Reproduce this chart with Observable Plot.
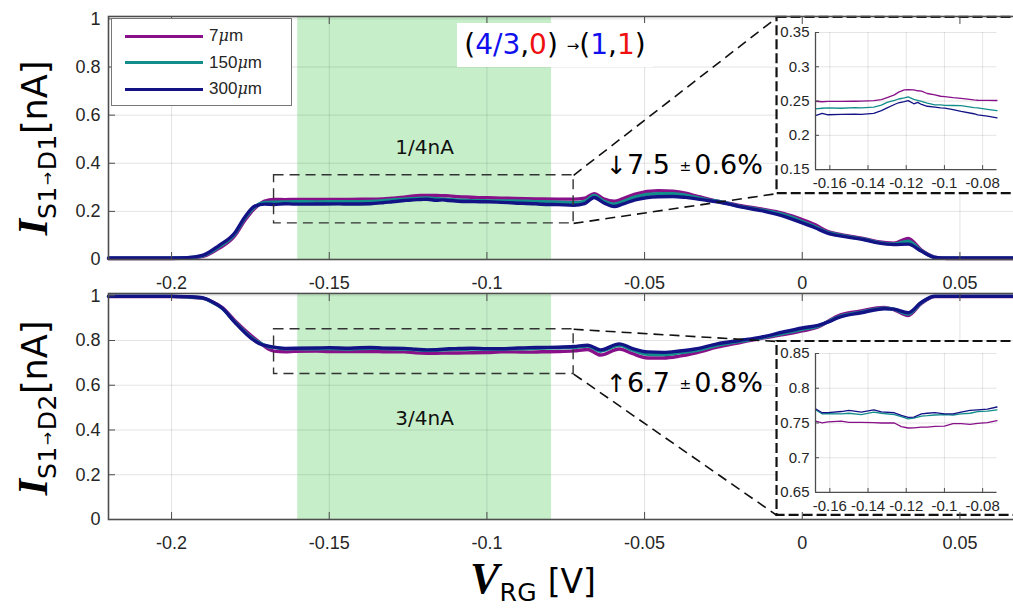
<!DOCTYPE html>
<html><head><meta charset="utf-8">
<script src="https://cdn.jsdelivr.net/npm/d3@7"></script>
<script src="https://cdn.jsdelivr.net/npm/@observablehq/plot@0.6"></script>
<style>
body{margin:0;background:#fff;}
#wrap{position:relative;width:1013px;height:610px;overflow:hidden;background:#fff;font-family:"Liberation Sans",Arial,sans-serif;color:#262626;}
#wrap > *{position:absolute;}
.ylab{transform:translate(-50%,-50%) rotate(-90deg);white-space:nowrap;line-height:1;color:#000;}
.xlab{transform:translate(-50%,0);white-space:nowrap;line-height:1;color:#000;}
.bI{font:italic bold 42px "Liberation Serif","DejaVu Serif",serif;}
.sub{font:25px "DejaVu Sans",sans-serif;vertical-align:-0.35em;letter-spacing:0.5px;}
.arr{font-size:16px;vertical-align:0.15em;margin:0 1px;}
.unit{font:35px "DejaVu Sans",sans-serif;}
.ann{font:27px "DejaVu Sans",sans-serif;white-space:nowrap;line-height:1;color:#000;}
.pm{font-size:14px;vertical-align:0.25em;margin:0 3px 0 1px;}
#legend{border:1px solid #777;background:#fff;box-sizing:border-box;}
.lr{position:absolute;left:0;height:20px;display:flex;align-items:center;font:17px "Liberation Sans",Arial,sans-serif;color:#262626;}
.sw{display:inline-block;width:78px;height:3px;margin-left:13px;margin-right:6px;}
</style></head><body><div id="wrap"></div>
<script>
// ---------------- data ----------------
const seriesNames = ["7μm", "150μm", "300μm"];
const seriesColors = ["#88118a", "#138d8c", "#131386"];

const xTicks = [-0.2, -0.15, -0.1, -0.05, 0, 0.05];
const yTicks = [0, 0.2, 0.4, 0.6, 0.8, 1];
const insetXTicks = [-0.16, -0.14, -0.12, -0.1, -0.08];
const topInsetYTicks = [0.15, 0.2, 0.25, 0.3, 0.35];
const botInsetYTicks = [0.65, 0.7, 0.75, 0.8, 0.85];
const xDomain = [-0.22, 0.07];
const yDomain = [0, 1.01];
const band = [-0.16, -0.0795];
const zoomX = [-0.1675, -0.0725];
const topZoomY = [0.15, 0.35];
const botZoomY = [0.65, 0.85];
const topInsetBox = {x1: -0.008, x2: 0.09, y1: 0.274, y2: 1.006};
const botInsetBox = {x1: -0.008, x2: 0.09, y1: 0.018, y2: 0.7955};

// I S1->D1
const topX = [-0.22, -0.2, -0.195, -0.19, -0.185, -0.18, -0.1768, -0.1736, -0.1705,
  -0.1675, -0.164, -0.161, -0.154, -0.147, -0.1435, -0.137, -0.133, -0.13, -0.1262,
  -0.124, -0.121, -0.119, -0.116, -0.114, -0.112, -0.109, -0.105, -0.102, -0.0998,
  -0.0955, -0.0913, -0.0846, -0.0826, -0.0775, -0.0725,
  -0.069, -0.066, -0.063, -0.0596, -0.057, -0.053, -0.0456, -0.041, -0.037, -0.034,
  -0.03, -0.026, -0.02, -0.013, -0.006, 0, 0.004, 0.008, 0.012, 0.016,
  0.02, 0.024, 0.029, 0.0336, 0.0377, 0.042, 0.046, 0.07];
const top7 = [0.004, 0.004, 0.006, 0.013, 0.046, 0.098, 0.162, 0.213, 0.243,
  0.2497, 0.249, 0.2495, 0.2495, 0.2497, 0.25, 0.2505, 0.252, 0.255, 0.259,
  0.263, 0.2662, 0.2665, 0.2663, 0.265, 0.2645, 0.261, 0.259, 0.257, 0.2565,
  0.255, 0.254, 0.2516, 0.2512, 0.251, 0.2508,
  0.255, 0.274, 0.252, 0.242, 0.252, 0.272, 0.286, 0.284, 0.276, 0.265,
  0.252, 0.24, 0.225, 0.21, 0.192, 0.166, 0.145, 0.117, 0.104, 0.095,
  0.086, 0.074, 0.068, 0.088, 0.04, 0.01, 0.004, 0.004];
const top150 = [0.005, 0.005, 0.007, 0.016, 0.053, 0.105, 0.171, 0.219, 0.237,
  0.2386, 0.2395, 0.24, 0.2395, 0.2405, 0.24, 0.2412, 0.244, 0.248, 0.251,
  0.253, 0.2547, 0.256, 0.2525, 0.251, 0.2495, 0.247, 0.2445, 0.2445, 0.2438,
  0.2435, 0.2434, 0.2405, 0.24, 0.238, 0.236,
  0.242, 0.266, 0.243, 0.23, 0.24, 0.26, 0.274, 0.273, 0.267, 0.259,
  0.248, 0.24, 0.222, 0.206, 0.186, 0.158, 0.137, 0.113, 0.101, 0.092,
  0.083, 0.071, 0.064, 0.076, 0.037, 0.009, 0.005, 0.005];
const top300 = [0.006, 0.006, 0.008, 0.018, 0.058, 0.11, 0.176, 0.222, 0.23,
  0.2288, 0.232, 0.23, 0.2305, 0.231, 0.2307, 0.232, 0.236, 0.24, 0.245,
  0.2475, 0.2493, 0.2507, 0.246, 0.248, 0.245, 0.2424, 0.241, 0.24, 0.2398,
  0.2375, 0.235, 0.2315, 0.2297, 0.228, 0.2255,
  0.232, 0.258, 0.236, 0.22, 0.23, 0.248, 0.261, 0.262, 0.258, 0.253,
  0.245, 0.238, 0.22, 0.203, 0.18, 0.152, 0.132, 0.11, 0.098, 0.09,
  0.081, 0.069, 0.062, 0.064, 0.035, 0.009, 0.006, 0.006];

// I S1->D2
const botX = [-0.22, -0.2, -0.195, -0.19, -0.187, -0.184, -0.18, -0.1746, -0.1715, -0.1693,
  -0.1675, -0.164, -0.161, -0.154, -0.15, -0.1435, -0.137, -0.133, -0.1262, -0.1226,
  -0.119, -0.116, -0.112, -0.109, -0.105, -0.1, -0.0955, -0.0913, -0.0866, -0.0826,
  -0.0775, -0.0725,
  -0.068, -0.064, -0.058, -0.054, -0.049, -0.044, -0.039, -0.034, -0.027, -0.02,
  -0.013, -0.006, 0, 0.005, 0.0085, 0.0114, 0.0187, 0.026, 0.029, 0.0336,
  0.0377, 0.042, 0.07];
const bot7 = [0.996, 0.996, 0.994, 0.988, 0.972, 0.948, 0.89, 0.82, 0.785, 0.762,
  0.7526, 0.75, 0.7515, 0.7526, 0.751, 0.751, 0.7505, 0.75, 0.75, 0.7447,
  0.7428, 0.743, 0.744, 0.744, 0.745, 0.7456, 0.749, 0.749, 0.748, 0.7495,
  0.7505, 0.7534,
  0.76, 0.735, 0.762, 0.742, 0.722, 0.722, 0.73, 0.744, 0.77, 0.79,
  0.81, 0.826, 0.843, 0.86, 0.888, 0.91, 0.932, 0.948, 0.938, 0.912,
  0.965, 0.996, 0.996];
const bot150 = [0.997, 0.997, 0.995, 0.989, 0.97, 0.944, 0.884, 0.812, 0.785, 0.772,
  0.769, 0.763, 0.7635, 0.763, 0.764, 0.762, 0.7655, 0.764, 0.762, 0.759,
  0.756, 0.757, 0.76, 0.7605, 0.7615, 0.762, 0.7615, 0.763, 0.764, 0.7665,
  0.767, 0.769,
  0.775, 0.752, 0.778, 0.758, 0.738, 0.737, 0.745, 0.755, 0.778, 0.796,
  0.812, 0.832, 0.85, 0.864, 0.886, 0.905, 0.927, 0.944, 0.94, 0.918,
  0.968, 0.997, 0.997];
const bot300 = [0.998, 0.998, 0.996, 0.99, 0.972, 0.945, 0.882, 0.808, 0.782, 0.775,
  0.7704, 0.7647, 0.765, 0.7665, 0.768, 0.7655, 0.769, 0.766, 0.7647, 0.761,
  0.758, 0.7585, 0.763, 0.764, 0.765, 0.763, 0.763, 0.7655, 0.768, 0.769,
  0.77, 0.773,
  0.779, 0.758, 0.785, 0.765, 0.749, 0.747, 0.753, 0.762, 0.785, 0.8,
  0.815, 0.838, 0.856, 0.868, 0.884, 0.902, 0.924, 0.942, 0.94, 0.924,
  0.97, 0.998, 0.998];

// ---------------- build ----------------
const fmt = d => String(d);
function tidy(xs, cols) {
  const rows = [];
  cols.forEach((ys, k) => xs.forEach((x, i) => rows.push({x, y: ys[i], s: seriesNames[k]})));
  return rows;
}
const topRows = tidy(topX, [top7, top150, top300]);
const botRows = tidy(botX, [bot7, bot150, bot300]);

const wrap = document.getElementById("wrap");
const color = {domain: seriesNames, range: seriesColors};
const tickCol = "#4d4d4d";

function mainPanel(rows, zoomY, box, note, noteY, height, marginTop, marginBottom) {
  return Plot.plot({
    width: 1030, height, marginLeft: 108, marginRight: 7.5, marginTop, marginBottom,
    x: {domain: xDomain, label: null},
    y: {domain: yDomain, label: null},
    color,
    style: {fontFamily: "'Liberation Sans', Arial, sans-serif", fontSize: "18px", color: "#262626", background: "transparent"},
    marks: [
      Plot.rect([band], {x1: d => d[0], x2: d => d[1], y1: yDomain[0], y2: yDomain[1], fill: "#c6efc9"}),
      Plot.gridX(xTicks, {stroke: "#000", strokeOpacity: 0.11, strokeWidth: 1}),
      Plot.gridY(yTicks, {stroke: "#000", strokeOpacity: 0.11, strokeWidth: 1}),
      Plot.line(rows, {x: "x", y: "y", z: "s", stroke: "s", strokeWidth: 3.4, curve: "monotone-x"}),
      Plot.rect([{}], {x1: zoomX[0], x2: zoomX[1], y1: zoomY[0], y2: zoomY[1], fill: "none", stroke: "#333", strokeWidth: 1.4, strokeDasharray: "10,6"}),
      Plot.rect([box], {x1: "x1", x2: "x2", y1: "y1", y2: "y2", fill: "white", stroke: "#111", strokeWidth: 2.2, strokeDasharray: "10,4"}),
      Plot.link([
        {a: zoomX[1], b: zoomY[1], c: box.x1, d: box.y2},
        {a: zoomX[1], b: zoomY[0], c: box.x1, d: box.y1}
      ], {x1: "a", y1: "b", x2: "c", y2: "d", stroke: "#111", strokeWidth: 1.6, strokeDasharray: "10,6"}),
      Plot.text([note], {x: (band[0] + band[1]) / 2, y: noteY, text: d => d, fontSize: 20, fontFamily: "DejaVu Sans", fill: "#111"}),
      Plot.axisX(xTicks, {anchor: "bottom", tickSize: -7, tickPadding: 24, tickFormat: fmt, stroke: tickCol, fill: "#262626", fontSize: 18}),
      Plot.axisX(xTicks, {anchor: "top", tickSize: -7, tickFormat: () => "", stroke: tickCol}),
      Plot.axisY(yTicks, {anchor: "left", tickSize: -7, tickPadding: 15, tickFormat: fmt, stroke: tickCol, fill: "#262626", fontSize: 18}),
      Plot.frame({stroke: tickCol, strokeWidth: 1.6})
    ]
  });
}

function place(el, left, top) {
  el.style.position = "absolute";
  el.style.left = left + "px";
  el.style.top = top + "px";
  el.style.maxWidth = "none";
  el.style.overflow = "visible";
  el.style.background = "transparent";
  wrap.appendChild(el);
}

const topTop = 0, botTop = 290;
const topPlot = mainPanel(topRows, topZoomY, topInsetBox, "1/4nA", 0.465, 300, 16, 41);
place(topPlot, 0, topTop);
const botPlot = mainPanel(botRows, botZoomY, botInsetBox, "3/4nA", 0.452, 320, 3, 91);
place(botPlot, 0, botTop);

function insetPanel(rows, yDom, yT, mTop, mBottom, left, top, height) {
  const sub = rows.filter(d => d.x >= zoomX[0] - 1e-9 && d.x <= zoomX[1] + 1e-9);
  const width = 1013 - left;
  return Plot.plot({
    width, height, marginLeft: 38, marginRight: 17, marginTop: mTop, marginBottom: mBottom,
    x: {domain: zoomX, label: null},
    y: {domain: yDom, label: null},
    color,
    style: {fontFamily: "'Liberation Sans', Arial, sans-serif", fontSize: "15px", color: "#262626", background: "transparent"},
    marks: [
      Plot.gridX(insetXTicks, {stroke: "#000", strokeOpacity: 0.11}),
      Plot.gridY(yT, {stroke: "#000", strokeOpacity: 0.11}),
      Plot.line(sub, {x: "x", y: "y", z: "s", stroke: "s", strokeWidth: 1.3, curve: "linear"}),
      Plot.ruleX([zoomX[0]], {stroke: tickCol, strokeWidth: 1.3}),
      Plot.ruleY([yDom[0]], {stroke: tickCol, strokeWidth: 1.3}),
      Plot.axisX(insetXTicks, {anchor: "bottom", tickSize: -4, tickPadding: 12, tickFormat: fmt, stroke: tickCol, fill: "#262626", fontSize: 15}),
      Plot.axisY(yT, {anchor: "left", tickSize: -4, tickPadding: 10, tickFormat: fmt, stroke: tickCol, fill: "#262626", fontSize: 15})
    ]
  });
}

function insetFor(plot, panelTop, box, rows, yDom, yT, mTop, mBottom) {
  const sx = plot.scale("x"), sy = plot.scale("y");
  const left = sx.apply(box.x1);
  const top = panelTop + sy.apply(box.y2);
  const height = sy.apply(box.y1) - sy.apply(box.y2);
  const ins = insetPanel(rows, yDom, yT, mTop, mBottom, left, top, height);
  place(ins, left, top);
}
insetFor(topPlot, topTop, topInsetBox, topRows, topZoomY, topInsetYTicks, 15, 24);
insetFor(botPlot, botTop, botInsetBox, botRows, botZoomY, botInsetYTicks, 12, 23);

// ---------------- labels ----------------
function addHTML(cls, html, left, top) {
  const d = document.createElement("div");
  d.className = cls;
  d.innerHTML = html;
  d.style.left = left + "px";
  d.style.top = top + "px";
  wrap.appendChild(d);
  return d;
}
const yLab = sub => `<span class="bI">I</span><span class="sub">${sub}</span><span class="unit">[nA]</span>`;
addHTML("ylab", yLab('S1<span class="arr">→</span>D1'), 35, 148);
addHTML("ylab", yLab('S1<span class="arr">→</span>D2'), 35, 408);
addHTML("xlab", `<span class="bI" style="font-size:44px">V</span><span class="sub" style="font-size:25px;vertical-align:-0.3em">RG</span><span class="unit" style="font-size:33px"> [V]</span>`, 533, 553);

// legend
const leg = addHTML("", "", 111, 18);
leg.id = "legend";
leg.style.width = "181px"; leg.style.height = "88px";
seriesNames.forEach((n, i) => {
  const r = document.createElement("div");
  r.className = "lr";
  r.style.top = (7 + i * 26.5) + "px";
  const num = n.replace("μm", "");
  r.innerHTML = `<span class="sw" style="background:${seriesColors[i]}"></span><span>${num}<i style="font-family:'DejaVu Serif',serif;font-size:16px">μ</i>m</span>`;
  leg.appendChild(r);
});

// transition annotation
const t = addHTML("ann",
  `<span>(<span style="color:#1010ee">4/3</span>,<span style="color:#ee1010">0</span>)&nbsp;<span style="font-size:15px;vertical-align:0.2em">→</span>(<span style="color:#1010ee">1</span>,<span style="color:#ee1010">1</span>)</span>`,
  457, 23);
t.style.background = "#fff"; t.style.width = "196px"; t.style.height = "44px";
t.style.display = "flex"; t.style.alignItems = "center"; t.style.justifyContent = "center";
t.style.fontSize = "28px";

addHTML("ann", `<span style="font-size:25px">↓</span>7.5 <span class="pm">±</span>0.6%`, 606, 151);
addHTML("ann", `<span style="font-size:25px">↑</span>6.7 <span class="pm">±</span>0.8%`, 606, 369);
</script></body></html>
